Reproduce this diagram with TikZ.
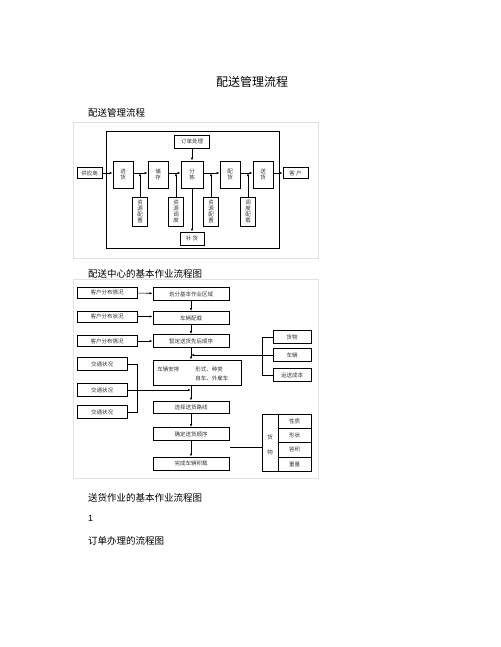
\documentclass[tikz,border=0pt]{standalone}
\usepackage{fontspec}
\setmainfont{Liberation Sans}
\newfontfamily\cjk{Noto Sans CJK SC}
\usetikzlibrary{arrows.meta,positioning,calc}

\tikzset{
  box/.style={draw,line width=0.6pt,inner sep=0pt,align=center,text=black!80,
    font=\cjk\fontsize{5.5}{6.2}\selectfont},
  stepcol/.style={box,minimum width=20pt,minimum height=27pt},
  infobox/.style={box,minimum width=15pt,minimum height=29pt},
  wide/.style={box,minimum width=76pt,minimum height=13pt},
  side/.style={box,minimum width=60pt,minimum height=11pt},
  flow/.style={-{Latex[length=3pt,width=2.2pt]},line width=0.6pt},
  plain/.style={line width=0.6pt},
  frame/.style={draw=black!12,line width=0.8pt},
  caption/.style={anchor=west,inner sep=0pt,font=\cjk\fontsize{9.5}{9.5}\selectfont}
}

\begin{document}
\begin{tikzpicture}[x=1pt,y=-1pt]
  \useasboundingbox (0,0) rectangle (500,647);
  \node[inner sep=0pt,font=\cjk\fontsize{12}{12}\selectfont] (title) at (252,82) {配送管理流程};
  \node[caption] (cap1) at (88,113) {配送管理流程};

  % first picture
  \draw[frame] (73,122) rectangle (318,258);
  \draw[plain] (106,131) rectangle (279,248);
  \node[box,minimum width=25pt,minimum height=11pt] (supplier) at (89.5,173) {供应商};
  \node[stepcol] (intake) at (123,174.5) {进\\货};
  \node[stepcol] (store) at (158,174.5) {储\\存};
  \node[stepcol,minimum width=22pt] (sort) at (192,174.5) {分\\拣};
  \node[stepcol] (pick) at (230,174.5) {配\\货};
  \node[stepcol] (deliver) at (263,174.5) {送\\货};
  \node[box,minimum width=25pt,minimum height=11pt] (client) at (295.5,173) {客 户};
  \node[box,minimum width=35pt,minimum height=13pt] (order) at (192,141.5) {订单处理};
  \node[box,minimum width=24pt,minimum height=13pt] (refill) at (192,238.5) {补 货};
  \node[infobox] (infoa) at (140,211.5) {资\\源\\配\\置};
  \node[infobox] (infob) at (176,211.5) {资\\源\\调\\度};
  \node[infobox] (infoc) at (211,211.5) {资\\源\\配\\置};
  \node[infobox] (infod) at (248,211.5) {调\\度\\配\\载};
  \draw[flow] (supplier.east) -- (supplier.east -| intake.west);
  \draw[flow] (intake.east |- supplier.east) -- (store.west |- supplier.east);
  \draw[flow] (store.east |- supplier.east) -- (sort.west |- supplier.east);
  \draw[flow] (sort.east |- supplier.east) -- (pick.west |- supplier.east);
  \draw[flow] (pick.east |- supplier.east) -- (deliver.west |- supplier.east);
  \draw[flow] (deliver.east |- supplier.east) -- (client.west);
  \draw[flow] (infoa.north) -- (infoa.north |- supplier.east);
  \draw[flow] (infob.north) -- (infob.north |- supplier.east);
  \draw[flow] (infoc.north) -- (infoc.north |- supplier.east);
  \draw[flow] (infod.north) -- (infod.north |- supplier.east);
  \draw[flow] (order.south) -- (sort.north);
  \draw[flow] (sort.south) -- (refill.north);

  % second picture
  \node[caption] (cap2) at (88,274) {配送中心的基本作业流程图};
  \draw[frame] (73,279) rectangle (318,478);
  \node[side] (spreada) at (107,292.5) {客户分布情况};
  \node[side] (spreadb) at (107,316.5) {客户分布状况};
  \node[side] (spreadc) at (107,341) {客户分布情况};
  \node[wide] (zone) at (191,294) {划分基本作业区域};
  \node[wide] (load) at (191,318) {车辆配载};
  \node[wide] (order2) at (191,341) {暂定送货先后顺序};
  \node[box,minimum width=88pt,minimum height=25pt] (fleet) at (197,372.5) {};
  \node[box,draw=none,anchor=west] (fleeta) at (157,369) {车辆安排};
  \node[box,draw=none,anchor=west] (fleetb) at (195,369) {形式、种类};
  \node[box,draw=none,anchor=west] (fleetc) at (195,378) {自车、外雇车};
  \node[wide,minimum height=12pt] (route) at (191,407) {选择送货路线};
  \node[wide] (seq) at (191,434) {确定送货顺序};
  \node[wide] (stow) at (191,463.5) {完成车辆积载};
  \node[box,minimum width=50pt,minimum height=13pt] (traffa) at (102,364) {交通状况};
  \node[box,minimum width=50pt,minimum height=13pt] (traffb) at (102,390) {交通状况};
  \node[box,minimum width=50pt,minimum height=13pt] (traffc) at (102,412) {交通状况};
  \node[box,minimum width=38pt,minimum height=13pt] (goods) at (292,337) {货物};
  \node[box,minimum width=38pt,minimum height=13pt] (truck) at (292,355) {车辆};
  \node[box,minimum width=38pt,minimum height=13pt] (cost) at (292,375) {运送成本};
  \coordinate (fleetin) at (191,355);
  \coordinate (trafin) at (191,390);
  \coordinate (tabin) at (230,447);
  \draw[flow] (spreada) -- (zone);
  \draw[flow] (spreadb.east) -- (spreadb.east -| load.west);
  \draw[flow] (spreadc) -- (order2);
  \draw[flow] (zone) -- (load);
  \draw[flow] (load) -- (order2);
  \draw[flow] (order2.south) -- (fleet.north -| order2.south);
  \draw[flow] (fleet.south -| route.north) -- (route.north);
  \draw[flow] (route) -- (seq);
  \draw[flow] (seq) -- (stow);
  \draw[plain] (goods.west) -| (262,375) -- (cost.west);
  \draw[flow] (truck.west) -- (fleetin);
  \draw[plain] (traffa.east) -- ++(10,0) |- (traffc.east);
  \draw[flow] (traffb.east) -- (trafin);
  % goods table
  \draw[plain] (262,414) rectangle (311,471);
  \draw[plain] (278,414) -- (278,471);
  \foreach \yy in {428,442,457} \draw[plain] (278,\yy) -- (311,\yy);
  \node[box,draw=none] (gd) at (270,437) {货};
  \node[box,draw=none] (gw) at (270,452) {物};
  \node[box,draw=none] (pa) at (294.5,421) {性质};
  \node[box,draw=none] (pb) at (294.5,435) {形状};
  \node[box,draw=none] (pc) at (294.5,449.5) {容积};
  \node[box,draw=none] (pd) at (294.5,464) {重量};
  \draw[plain] (262,447) -- (tabin);

  \node[caption] (cap3) at (88,498) {送货作业的基本作业流程图};
  \node[anchor=west,inner sep=0pt,font=\fontsize{9}{9}\selectfont] (num) at (88,518) {1};
  \node[caption] (cap4) at (88,541) {订单办理的流程图};
\end{tikzpicture}
\end{document}
